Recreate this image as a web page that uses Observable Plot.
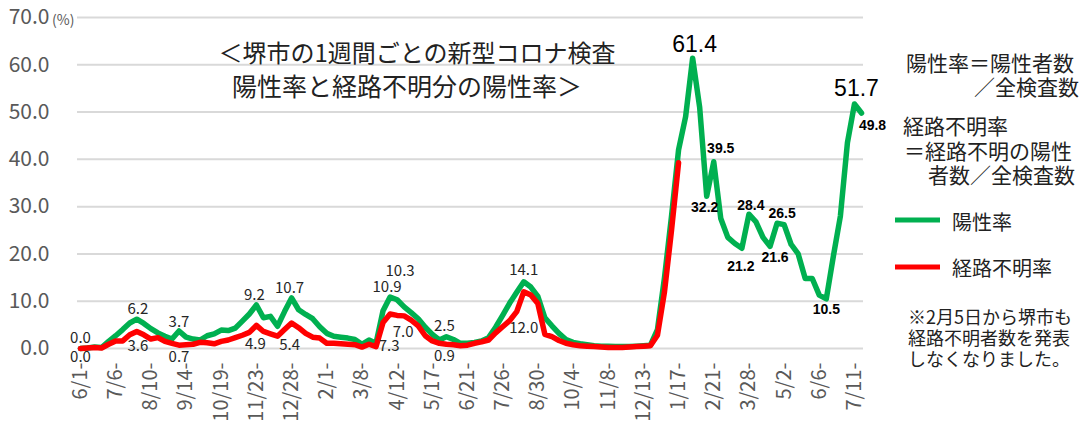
<!DOCTYPE html>
<html><head><meta charset="utf-8">
<script src="https://cdn.jsdelivr.net/npm/d3@7"></script>
<script src="https://cdn.jsdelivr.net/npm/@observablehq/plot@0.6"></script>
<style>body{margin:0;background:#fff;}</style>
</head><body><div id="chart"></div>
<script>
// ---- data ----
const tickLabels = ["6/1-","7/6-","8/10-","9/14-","10/19-","11/23-","12/28-","2/1-","3/8-","4/12-","5/17-","6/21-","7/26-","8/30-","10/4-","11/8-","12/13-","1/17-","2/21-","3/28-","5/2-","6/6-","7/11-"];
const positiveRate = [
  0.0,0.1,0.3,0.2,1.5,2.7,4.0,5.4,6.2,5.3,
  4.2,3.3,2.6,2.0,3.7,2.4,2.0,1.8,2.7,3.1,
  3.9,3.8,4.3,5.8,7.3,9.2,6.5,6.8,4.7,7.8,
  10.7,8.2,7.2,6.3,4.6,3.2,2.6,2.4,2.2,1.9,
  0.9,1.8,1.1,8.0,10.9,10.3,8.8,7.6,6.3,4.5,
  3.0,1.8,2.5,1.9,1.1,1.1,1.3,1.6,2.3,4.5,
  7.0,9.6,11.9,14.1,13.0,11.0,6.5,4.8,3.2,1.9,
  1.3,1.0,0.8,0.6,0.5,0.5,0.4,0.4,0.4,0.5,
  0.6,0.7,4.0,15.0,28.0,42.0,49.0,61.4,51.0,32.2,
  39.5,27.5,23.5,22.2,21.2,28.4,26.8,23.5,21.6,26.5,
  26.2,22.0,20.0,14.8,14.8,11.3,10.5,19.5,28.0,43.5,
  51.7,49.8
];
const unknownRate = [
  0.0,0.1,0.2,0.1,0.9,1.6,1.6,2.9,3.6,2.9,
  2.0,2.3,1.5,1.1,0.7,0.8,0.9,1.3,1.2,1.0,
  1.5,1.8,2.3,2.8,3.4,4.9,3.6,3.1,2.6,4.0,
  5.4,4.4,3.2,2.4,2.2,1.1,1.1,1.0,0.9,0.8,
  0.3,0.9,0.4,5.5,7.3,7.0,6.9,6.0,4.8,2.7,
  1.6,1.1,0.9,0.8,0.6,0.7,1.1,1.4,1.8,3.3,
  4.6,5.9,7.8,12.0,11.3,9.5,3.0,2.5,1.7,1.1,
  0.8,0.6,0.5,0.4,0.3,0.2,0.2,0.2,0.3,0.4,
  0.5,0.6,2.8,12.0,25.0,39.3
];
const positiveLabelWeeks = [0,8,14,25,30,44,45,52,63];
const positiveBoldLabelWeeks = [89,90,94,95,98,99,106,111];
const positiveBigLabelWeeks = [87,110];
const unknownLabelWeeks = [0,8,14,25,30,44,45,52,63];

// ---- label placement (pixel offsets from the point) ----
const gOff = {0:[0,-10],8:[1,-10],14:[0,-9],25:[-2,-10],30:[-2,-9.5],44:[-3,-9.5],45:[3,-29],52:[-2,-10],63:[0,-12],
  87:[2,-14],89:[-2,11],90:[7,-13],94:[-1,18],95:[2,-9],98:[5,11],99:[5,-10],106:[0,11],110:[2,-15],111:[11,12]};
const rOff = {0:[0,9],8:[1,15],14:[0,12],25:[-1,19],30:[-2,22],44:[-1,32],45:[6,17],52:[-2,12],63:[0,36]};

const GREEN = "#00B050", RED = "#FF0000";
const JP = "'Noto Sans CJK JP', 'Noto Sans', sans-serif";

const gData = positiveRate.map((v,i)=>({i,v}));
const rData = unknownRate.map((v,i)=>({i,v}));

const labelMarks = [];
function addLabels(weeks, values, off, opts) {
  for (const w of weeks) {
    const [dx, dy] = off[w];
    labelMarks.push(Plot.text([{i:w, v:values[w]}], {x:"i", y:"v", text: d=>d.v.toFixed(1), dx, dy, ...opts}));
  }
}
addLabels(positiveLabelWeeks, positiveRate, gOff, {fontSize:15, fill:"#262626", fontFamily: JP});
addLabels(unknownLabelWeeks, unknownRate, rOff, {fontSize:15, fill:"#262626", fontFamily: JP});
addLabels(positiveBoldLabelWeeks, positiveRate, gOff, {fontSize:14, fontWeight:"bold", fill:"#000", fontFamily:"'Liberation Sans', Arial, sans-serif"});
addLabels(positiveBigLabelWeeks, positiveRate, gOff, {fontSize:23, fill:"#000", fontFamily:"'Liberation Sans', Arial, sans-serif"});

const chart = Plot.plot({
  width: 1086, height: 426,
  marginLeft: 80, marginRight: 225, marginTop: 17, marginBottom: 78,
  style: {fontFamily: JP, background: "#fff"},
  x: {type:"linear", domain:[0, 111]},
  y: {domain:[0, 70]},
  marks: [
    Plot.ruleY(d3.range(0, 71, 10), {stroke:"#d9d9d9", strokeWidth:2, insetLeft:-3, insetRight:-2}),
    Plot.axisY({ticks: d3.range(0, 71, 10), tickFormat: d=>d.toFixed(1), tickSize:0, tickPadding:31, fontSize:21, fill:"#595959", label:null}),
    Plot.axisX({ticks: d3.range(0, 111, 5), tickFormat: i=>tickLabels[i/5], tickRotate:-90, tickSize:0, tickPadding:14, fontSize:20, fill:"#595959", label:null}),
    Plot.line(gData, {x:"i", y:"v", stroke:GREEN, strokeWidth:5.5, strokeLinejoin:"round", strokeLinecap:"round"}),
    Plot.line(rData, {x:"i", y:"v", stroke:RED, strokeWidth:5.5, strokeLinejoin:"round", strokeLinecap:"round"}),
    ...labelMarks
  ]
});
document.getElementById("chart").appendChild(chart);

// ---- annotations (title, definitions, legend, note) ----
const svg = d3.select(chart);
function t(x, y, s, size, anchor="start", fill="#222") {
  svg.append("text").attr("x", x).attr("y", y).attr("font-size", size).attr("font-family", JP)
    .attr("text-anchor", anchor).attr("dominant-baseline", "central").attr("fill", fill).text(s);
}
t(52, 19, "(%)", 14, "start", "#595959");
t(417, 51, "＜堺市の1週間ごとの新型コロナ検査", 24, "middle");
t(407, 85, "陽性率と経路不明分の陽性率＞", 25, "middle");
t(906, 62, "陽性率＝陽性者数", 21);
t(1079, 86, "／全検査数", 21, "end");
t(903, 125, "経路不明率", 21);
t(904, 150, "＝経路不明の陽性", 21);
t(928, 174, "者数／全検査数", 21);
svg.append("line").attr("x1", 895).attr("x2", 940).attr("y1", 220).attr("y2", 220).attr("stroke", GREEN).attr("stroke-width", 5);
t(952, 221, "陽性率", 20);
svg.append("line").attr("x1", 895).attr("x2", 940).attr("y1", 267).attr("y2", 267).attr("stroke", RED).attr("stroke-width", 5);
t(952, 267, "経路不明率", 20);
t(908, 316, "※2月5日から堺市も", 18);
t(908, 337, "経路不明者数を発表", 18);
t(908, 358, "しなくなりました。", 18);
</script>
</body></html>
